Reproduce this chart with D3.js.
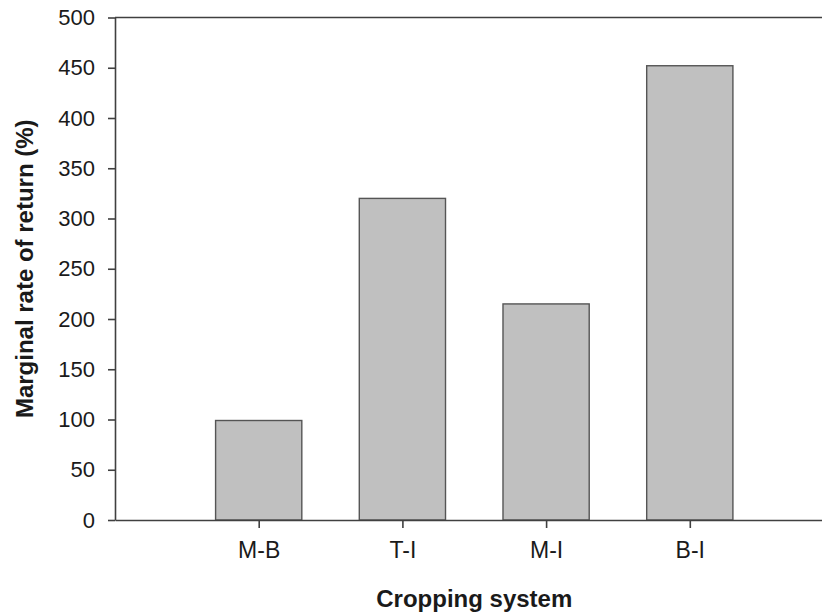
<!DOCTYPE html>
<html>
<head>
<meta charset="utf-8">
<script src="https://cdn.jsdelivr.net/npm/d3@7"></script>
<style>
  body { margin: 0; background: #fff; }
  text { font-family: "Liberation Sans", Arial, sans-serif; fill: #1a1a1a; }
  .axis path, .axis line { stroke: #404040; stroke-width: 1.6; }
  .y.axis text { font-size: 22px; }
  .x.axis text { font-size: 23px; }
  .title { font-weight: bold; font-size: 24px; }
</style>
</head>
<body>
<div id="barChart"></div>
<script>
// data
var categories = ['M-B', 'T-I', 'M-I', 'B-I'];
var returns = [99, 320, 215, 452];
var yTicks = [0, 50, 100, 150, 200, 250, 300, 350, 400, 450, 500];

var margin = { top: 17.5, bottom: 93, left: 115, right: -11.5 };
var width = 822 - margin.left - margin.right;
var height = 613 - margin.top - margin.bottom;

var svg = d3.select("#barChart")
  .append("svg")
  .attr("width", 822)
  .attr("height", 613);

var g = svg.append("g").attr("transform", `translate(${margin.left},${margin.top})`);

// categories sit on positions 1..4 of a 0..5 axis
var xscale = d3.scaleLinear().domain([0, 5]).range([0, width]);
var yscale = d3.scaleLinear().domain([0, 500]).range([height, 0]);
var barWidth = xscale(0.6) - xscale(0);

var data = categories.map(function(c, i) {
  return { name: c, pos: i + 1, value: returns[i] };
});

// top frame line
g.append("line")
  .attr("x1", 0).attr("x2", width)
  .attr("y1", 0).attr("y2", 0)
  .attr("stroke", "#404040")
  .attr("stroke-width", 1.6);

g.selectAll(".bar")
  .data(data)
  .enter().append("rect")
  .attr("class", "bar")
  .attr("x", function(d) { return xscale(d.pos) - barWidth / 2; })
  .attr("y", function(d) { return yscale(d.value); })
  .attr("width", barWidth)
  .attr("height", function(d) { return yscale(0) - yscale(d.value); })
  .attr("fill", "#c0c0c0")
  .attr("stroke", "#555")
  .attr("stroke-width", 1.4);

var xaxis = d3.axisBottom(xscale)
  .tickValues(data.map(function(d) { return d.pos; }))
  .tickFormat(function(v) { return categories[v - 1]; })
  .tickSize(8)
  .tickSizeOuter(0)
  .tickPadding(14);

var yaxis = d3.axisLeft(yscale)
  .tickValues(yTicks)
  .tickSize(7)
  .tickSizeOuter(0)
  .tickPadding(13);

g.append("g").attr("class", "x axis")
  .attr("transform", "translate(0," + height + ")")
  .call(xaxis);

g.append("g").attr("class", "y axis").call(yaxis);

g.append("text")
  .attr("class", "title")
  .attr("x", width / 2)
  .attr("y", height + 87)
  .attr("text-anchor", "middle")
  .text("Cropping system");

g.append("text")
  .attr("class", "title")
  .attr("transform", "translate(" + (-82) + "," + (height / 2) + ") rotate(-90)")
  .attr("text-anchor", "middle")
  .text("Marginal rate of return (%)");
</script>
</body>
</html>
